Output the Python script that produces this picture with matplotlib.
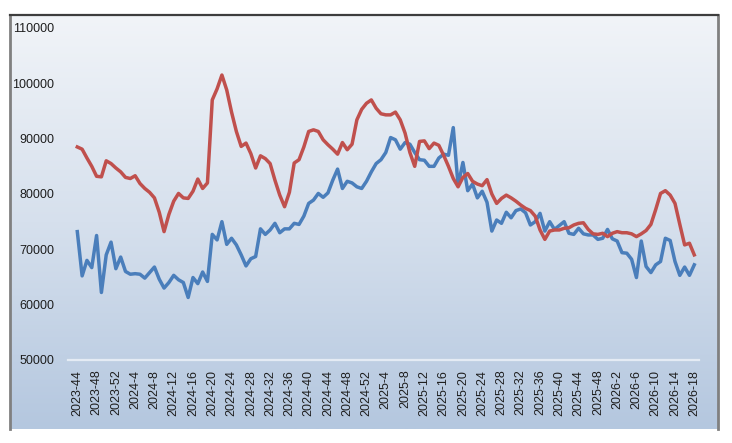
import numpy as np
import matplotlib
matplotlib.use("Agg")
import matplotlib.pyplot as plt
from matplotlib.colors import LinearSegmentedColormap

# weekly categories (year-week)
weeks = ([f"2023-{w}" for w in range(44, 53)]
         + [f"2024-{w}" for w in range(1, 53)]
         + [f"2025-{w}" for w in range(1, 51)]
         + [f"2026-{w}" for w in range(1, 19)])

red_series = [
    88500, 88100, 86500, 85000, 83200, 83100, 86000, 85500, 84700, 84000,
    83000, 82800, 83300, 81900, 81000, 80300, 79300, 76700, 73200, 76300,
    78700, 80100, 79300, 79200, 80500, 82700, 81000, 82000, 97000, 99000,
    101500, 98800, 94800, 91300, 88600, 89200, 87300, 84700, 86900, 86400,
    85500, 82500, 79800, 77700, 80300, 85600, 86200, 88500, 91300, 91600,
    91300, 89800, 88900, 88100, 87200, 89300, 88000, 89000, 93400, 95300,
    96400, 97000, 95500, 94500, 94300, 94300, 94800, 93400, 91000, 87500,
    85000, 89500, 89600, 88200, 89200, 88800, 87000, 85000, 82800, 81300,
    83000, 83700, 82300, 81800, 81500, 82600, 80000, 78300, 79200, 79800,
    79300, 78700, 78000, 77400, 77000, 76000, 73500, 71800, 73300, 73500,
    73500, 73800, 73900, 74400, 74700, 74800, 73600, 72800, 72700, 72900,
    72300, 72900, 73200, 73000, 73000, 72800, 72300, 72800, 73400, 74500,
    77200, 80100, 80600, 79800, 78300, 74500, 70800, 71100, 69000,
]

blue_series = [
    73200, 65200, 68000, 66700, 72500, 62200, 69000, 71300, 66500, 68600,
    66000, 65500, 65600, 65500, 64800, 65800, 66800, 64600, 63000, 64000,
    65300, 64500, 64000, 61300, 64900, 63800, 65900, 64200, 72700, 71700,
    75000, 70900, 72000, 70800, 69000, 67000, 68300, 68700, 73700, 72700,
    73500, 74700, 73000, 73700, 73700, 74700, 74500, 76000, 78300, 78900,
    80100, 79400, 80200, 82500, 84500, 81000, 82300, 82000, 81300, 81000,
    82300, 84000, 85500, 86200, 87500, 90200, 89800, 88100, 89300, 89000,
    87500, 86200, 86100, 85000, 85000, 86500, 87200, 87000, 92000, 81500,
    85700, 80600, 81800, 79300, 80500, 78500, 73300, 75300, 74700, 76700,
    75700, 77000, 77300, 76600, 74400, 75000, 76500, 73300, 75000, 73600,
    74300, 75000, 72900, 72700, 73800, 72800, 72600, 72600, 71800, 72000,
    73600, 71900, 71500, 69400, 69300, 68200, 64900, 71500, 66900, 65800,
    67200, 67800, 72000, 71600, 67800, 65300, 66800, 65300, 67200,
]

y_ticks = [50000, 60000, 70000, 80000, 90000, 100000, 110000]

W, H = 732, 443
fig = plt.figure(figsize=(W / 100, H / 100), dpi=100)
fig.patch.set_facecolor("white")

# chart area with vertical gradient fill
bg = fig.add_axes([10 / W, (H - 429) / H, 708 / W, 414 / H], zorder=0)
grad = np.linspace(0, 1, 256).reshape(-1, 1)
cmap = LinearSegmentedColormap.from_list("bg", ["#f1f4f8", "#d6e0ed", "#b4c7df"])
bg.imshow(grad, aspect="auto", cmap=cmap, extent=[0, 1, 0, 1], origin="upper")
bg.set_xlim(0, 1)
bg.set_ylim(0, 1)
bg.set_xticks([])
bg.set_yticks([])
bg.spines["bottom"].set_visible(False)
bg.spines["top"].set_color("#3d3d3d")
bg.spines["top"].set_linewidth(1.6)
bg.spines["left"].set_color("#808080")
bg.spines["left"].set_linewidth(2.0)
bg.spines["right"].set_color("#808080")
bg.spines["right"].set_linewidth(2.0)

ax = fig.add_axes([68 / W, (H - 360) / H, 631 / W, 332 / H], zorder=1)
ax.patch.set_alpha(0)

x = np.arange(len(weeks))
ax.plot(x, blue_series[:len(x)], color="#4a7ebb", lw=2.5, solid_joinstyle="round")
ax.plot(x, red_series[:len(x)], color="#c0504d", lw=2.5, solid_joinstyle="round")

ax.set_xlim(-1.93, len(weeks) - 1 + 0.98)
ax.set_ylim(50000, 110000)
ax.set_yticks(y_ticks)
ax.set_yticklabels([str(v) for v in y_ticks])
tick_idx = list(range(0, len(weeks), 4))
ax.set_xticks(tick_idx)
ax.set_xticklabels([weeks[i] for i in tick_idx], rotation=90)

for side in ("top", "right", "left"):
    ax.spines[side].set_visible(False)
ax.spines["bottom"].set_color("#e4ebf4")
ax.spines["bottom"].set_linewidth(1.6)
ax.tick_params(axis="both", length=0, labelsize=9, labelcolor="#1e1e1e")
ax.tick_params(axis="y", pad=10)
ax.tick_params(axis="x", pad=7)
for lab in ax.get_xticklabels() + ax.get_yticklabels():
    lab.set_fontfamily("Liberation Sans")

fig.savefig("out.png", dpi=100)
